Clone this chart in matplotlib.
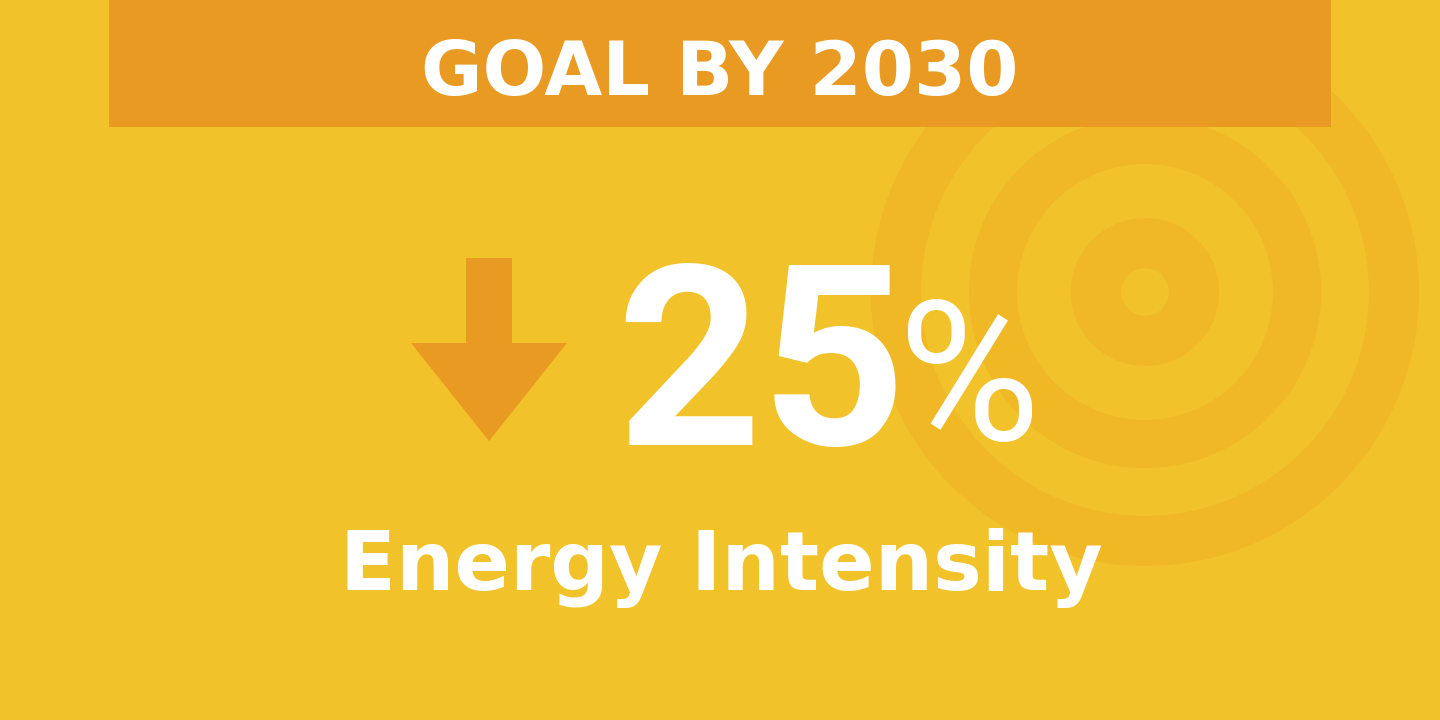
import matplotlib.pyplot as plt
from matplotlib.patches import Circle, Rectangle, Polygon

# text and values
header_text = 'GOAL BY 2030'
pct_value = 25
label_text = 'Energy Intensity'

# target rings (outer to inner), radius in px
ring_radii = [274, 224, 176, 128, 74, 24]

bg_color = '#F1C22A'
ring_color = '#EFB824'
orange = '#E99A22'
white = '#FFFFFF'

fig = plt.figure(figsize=(14.4, 7.2), dpi=100)
fig.patch.set_facecolor(bg_color)
ax = fig.add_axes([0, 0, 1, 1])
ax.set_xlim(0, 1440)
ax.set_ylim(720, 0)
ax.axis('off')

# target in background
cx, cy = 1145, 292
for i, r in enumerate(ring_radii):
    col = ring_color if i % 2 == 0 else bg_color
    ax.add_patch(Circle((cx, cy), r, facecolor=col, edgecolor='none', zorder=1))

# header band
ax.add_patch(Rectangle((109, 0), 1222, 127, facecolor=orange, edgecolor='none', zorder=2))
ax.text(720, 95, header_text, color=white, fontsize=54, fontweight='bold',
        family=['DejaVu Sans'], ha='center', va='baseline', zorder=3)

# down arrow
ax.add_patch(Rectangle((466, 258), 46, 86, facecolor=orange, edgecolor='none', zorder=2))
ax.add_patch(Polygon([(411, 343), (567, 343), (489, 441)], closed=True,
                     facecolor=orange, edgecolor='none', zorder=2))

# big number
ax.text(616, 445, str(pct_value), color=white, fontsize=182, fontweight='bold',
        family=['Roboto', 'DejaVu Sans'], ha='left', va='baseline', zorder=3)
ax.text(898, 440, '%', color=white, fontsize=140, fontweight='normal',
        family=['Liberation Sans Narrow', 'Roboto', 'DejaVu Sans'], ha='left', va='baseline', zorder=3)

ax.text(721, 590, label_text, color=white, fontsize=59, fontweight='bold',
        family=['DejaVu Sans'], ha='center', va='baseline', zorder=3)

fig.savefig('out.png', dpi=100, facecolor=bg_color)
